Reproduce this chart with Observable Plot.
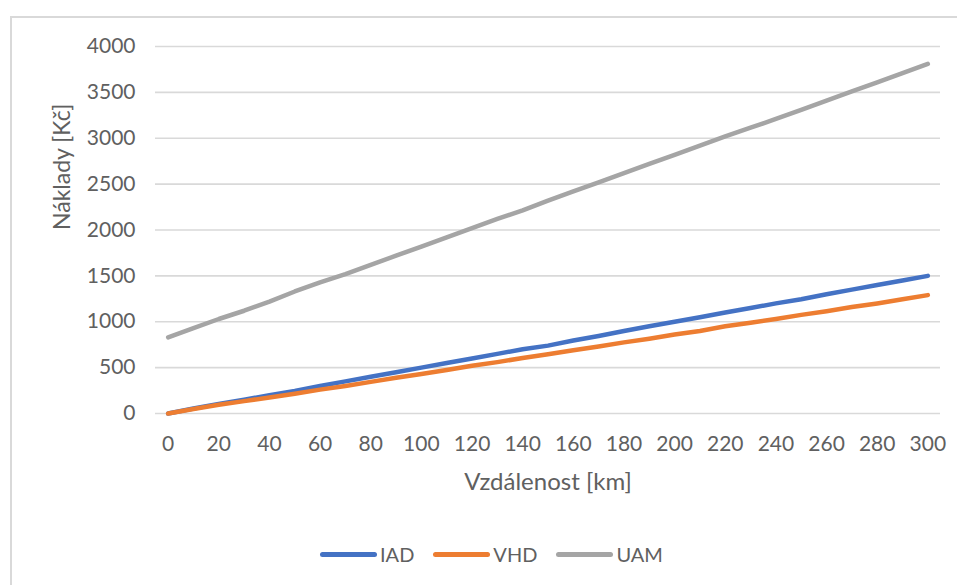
<!DOCTYPE html>
<html>
<head>
<meta charset="utf-8">
<script src="https://cdn.jsdelivr.net/npm/d3@7"></script>
<script src="https://cdn.jsdelivr.net/npm/@observablehq/plot@0.6"></script>
<style>
  html, body { margin: 0; padding: 0; background: #fff; overflow: hidden; }
  #wrap { position: relative; width: 957px; height: 585px; overflow: hidden; font-family: Lato, "Open Sans", sans-serif; }
  #frame { position: absolute; left: 10px; top: 16px; width: 990px; height: 620px; border: 2px solid #d9d9d9; box-sizing: border-box; }
  #chart { position: absolute; left: 0; top: 0; }
  #legend { position: absolute; left: 320px; top: 542px; display: flex; align-items: center; color: #606060; font-size: 20px; }
  .item { display: flex; align-items: center; margin-right: 19px; }
  .swatch { width: 57px; height: 5px; border-radius: 3px; margin-right: 3px; }
</style>
</head>
<body>
<div id="wrap">
  <div id="frame"></div>
  <div id="chart"></div>
  <div id="legend"></div>
</div>
<script>
// Distance in km (one point every 10 km)
const distance = [0, 10, 20, 30, 40, 50, 60, 70, 80, 90, 100, 110, 120, 130, 140, 150,
                  160, 170, 180, 190, 200, 210, 220, 230, 240, 250, 260, 270, 280, 290, 300];

// Costs in CZK per mode of transport
const iad = [0, 55, 105, 150, 200, 245, 300, 350, 400, 450, 500, 550, 600, 650, 700, 740,
             795, 845, 900, 950, 1000, 1050, 1100, 1150, 1200, 1245, 1300, 1350, 1400, 1450, 1500];
const vhd = [0, 50, 95, 135, 175, 215, 260, 300, 345, 390, 430, 475, 520, 560, 605, 645,
             690, 730, 775, 815, 860, 900, 950, 990, 1030, 1075, 1115, 1160, 1200, 1245, 1290];
const uam = [830, 930, 1030, 1120, 1220, 1330, 1430, 1520, 1620, 1720, 1820, 1920, 2020, 2120, 2215, 2320,
             2420, 2520, 2620, 2720, 2820, 2920, 3020, 3115, 3210, 3310, 3410, 3510, 3610, 3710, 3810];

const seriesNames = ["IAD", "VHD", "UAM"];
const seriesColors = ["#4472c4", "#ed7d31", "#a5a5a5"];

const xTicks = [0, 20, 40, 60, 80, 100, 120, 140, 160, 180, 200, 220, 240, 260, 280, 300];
const yTicks = [0, 500, 1000, 1500, 2000, 2500, 3000, 3500, 4000];

const xLabel = "Vzdálenost [km]";
const yLabel = "Náklady [Kč]";

const rows = [];
[iad, vhd, uam].forEach((vals, i) => {
  vals.forEach((v, j) => rows.push({series: seriesNames[i], km: distance[j], cost: v}));
});

const textColor = "#606060";

const chart = Plot.plot({
  width: 957,
  height: 530,
  marginLeft: 155,
  marginRight: 17,
  marginTop: 46,
  marginBottom: 117,
  style: {fontFamily: "Lato, 'Open Sans', sans-serif", fontSize: "21px", color: textColor, background: "transparent", overflow: "visible"},
  x: {domain: [-5, 305], ticks: xTicks, tickSize: 0, tickPadding: 24, label: null, tickFormat: String},
  y: {domain: [0, 4000], ticks: yTicks, tickSize: 0, tickPadding: 20, label: null, tickFormat: String},
  color: {domain: seriesNames, range: seriesColors},
  marks: [
    Plot.gridY(yTicks, {stroke: "#d9d9d9", strokeOpacity: 1, strokeWidth: 1.6}),
    Plot.axisX({ticks: xTicks, tickSize: 0, tickPadding: 23, label: null, fontSize: 21, tickFormat: String}),
    Plot.axisY({ticks: yTicks, tickSize: 0, tickPadding: 20, label: null, fontSize: 21, tickFormat: String}),
    Plot.line(rows, {x: "km", y: "cost", z: "series", stroke: "series", strokeWidth: 4.5, strokeLinecap: "round", strokeLinejoin: "round"}),
    Plot.text([xLabel], {frameAnchor: "bottom", dy: 76, fontSize: 24, fill: textColor}),
    Plot.text([yLabel], {frameAnchor: "left", dx: -93, rotate: -90, fontSize: 23, fill: textColor})
  ]
});
document.getElementById("chart").appendChild(chart);

// Legend
const legend = document.getElementById("legend");
seriesNames.forEach((name, i) => {
  const item = document.createElement("div");
  item.className = "item";
  const sw = document.createElement("div");
  sw.className = "swatch";
  sw.style.background = seriesColors[i];
  const label = document.createElement("span");
  label.textContent = name;
  item.appendChild(sw);
  item.appendChild(label);
  legend.appendChild(item);
});
</script>
</body>
</html>
